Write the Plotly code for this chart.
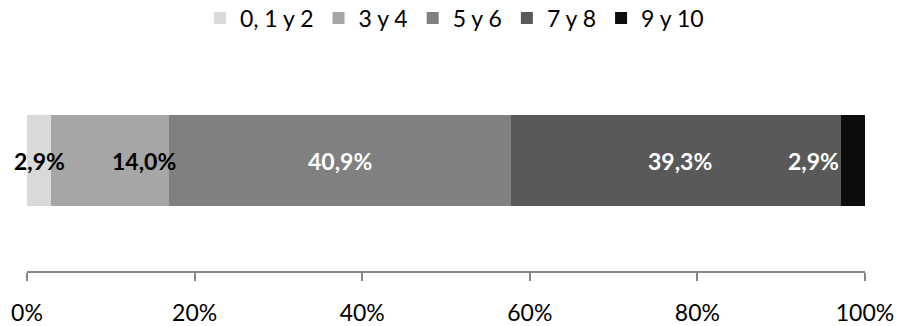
import numpy as np
import plotly.graph_objects as go

# categorías (puntuación) y porcentajes
categorias = ['0, 1 y 2', '3 y 4', '5 y 6', '7 y 8', '9 y 10']
valores = [2.9, 14.0, 40.9, 39.3, 2.9]
colores = ['#d9d9d9', '#a6a6a6', '#808080', '#595959', '#0d0d0d']
etiquetas = ['2,9%', '14,0%', '40,9%', '39,3%', '2,9%']
color_etiqueta = ['black', 'black', 'white', 'white', 'white']

tick_vals = [0, 20, 40, 60, 80, 100]
tick_text = ['0%', '20%', '40%', '60%', '80%', '100%']

FUENTE = 'Lato'
TAM = 23

fig = go.Figure()
for cat, v, c in zip(categorias, valores, colores):
    fig.add_trace(go.Bar(y=[''], x=[v], name=cat, orientation='h',
                         marker=dict(color=c, line=dict(width=0)),
                         width=0.41, hoverinfo='skip'))

# posiciones de las etiquetas a partir de los acumulados
fin = np.cumsum(valores)
ini = fin - np.array(valores)
pos = [((ini[0] + fin[0]) / 2, 'center', 0),
       (fin[1], 'right', 9),
       ((ini[2] + fin[2]) / 2, 'center', 0),
       ((ini[3] + fin[3]) / 2, 'center', 4),
       (ini[4], 'right', 0)]
for (x, anc, sh), txt, col in zip(pos, etiquetas, color_etiqueta):
    fig.add_annotation(x=x, y=0, text='<b>' + txt + '</b>', showarrow=False,
                       xanchor=anc, xshift=sh,
                       font=dict(family=FUENTE, size=TAM, color=col))

fig.update_layout(
    barmode='stack',
    width=897, height=326,
    margin=dict(l=27, r=32, t=50, b=55, autoexpand=False),
    plot_bgcolor='white', paper_bgcolor='white',
    font=dict(family=FUENTE, size=TAM, color='black'),
    showlegend=True,
    legend=dict(orientation='h', x=0.51, xanchor='center',
                yref='container', y=1 - 18 / 326, yanchor='middle',
                traceorder='normal', font=dict(size=TAM), itemwidth=30,
                itemclick=False),
    xaxis=dict(range=[0, 100], tickvals=tick_vals, ticktext=tick_text,
               showline=True, linecolor='#868686', linewidth=2,
               ticks='outside', ticklen=8, tickcolor='#868686', tickwidth=2,
               ticklabelstandoff=12, showgrid=False, zeroline=False,
               automargin=False, tickfont=dict(size=TAM)),
    yaxis=dict(range=[-0.5, 0.5], showticklabels=False, showgrid=False,
               zeroline=False, showline=False, automargin=False),
)

# quitar el margen por defecto del body para que la figura ocupe toda la ventana
fig.write_html("out.html", config={'displayModeBar': False},
               post_script="document.body.style.margin='0';")
